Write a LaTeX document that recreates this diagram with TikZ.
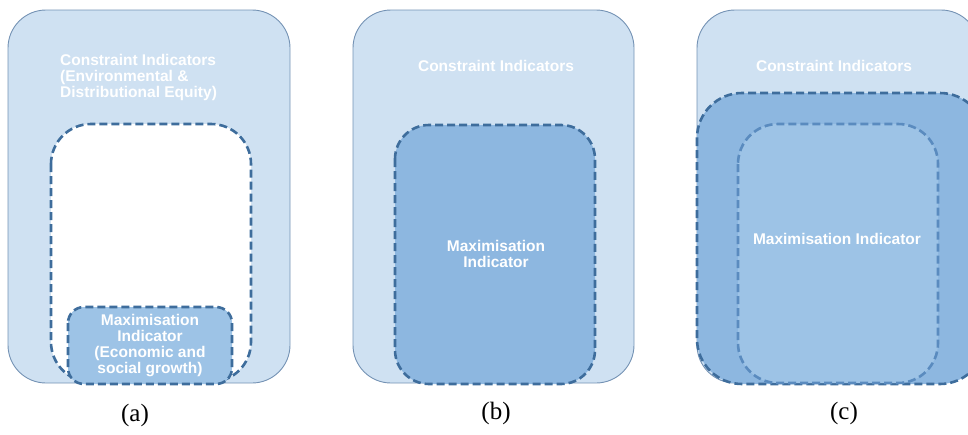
\documentclass[tikz,border=0pt]{standalone}
\usepackage{fontspec}
\setmainfont{Liberation Serif}
\newfontfamily\labfont{Liberation Sans}
\definecolor{outerfill}{HTML}{CFE1F2}
\definecolor{outerline}{HTML}{7492B4}
\definecolor{maxfill}{HTML}{8DB7E0}
\definecolor{lightmax}{HTML}{9DC3E6}
\definecolor{dashdark}{HTML}{3E6D9C}
\definecolor{dashlight}{HTML}{5A8BBF}
\tikzset{
  outerbox/.style={draw=outerline, line width=0.9pt, fill=outerfill, rounded corners=38pt},
  dashbox/.style={draw=dashdark, line width=2.6pt, dash pattern=on 8pt off 4pt, rounded corners=#1},
  wtext/.style={text=white, font=\labfont\bfseries\fontsize{15.5}{16}\selectfont, inner sep=0pt},
  caption/.style={font=\fontsize{25}{28}\selectfont, inner sep=0pt}
}
\begin{document}
\begin{tikzpicture}[x=1pt,y=-1pt]
\useasboundingbox (0,0) rectangle (968,434);
\clip (0,0) rectangle (968,434);
% ---------- (a)
\path[outerbox] (8,10) rectangle (290,383);
\path[dashbox=40pt, fill=white] (51,124) rectangle (251,382);
\path[dashbox=16pt, fill=lightmax] (68,307) rectangle (232,384);
\node[wtext, align=left, anchor=north west] (ca) at (60,54) {Constraint Indicators\\(Environmental \&\\Distributional Equity)};
\node[wtext, align=center] (ma) at (150,346) {Maximisation\\Indicator\\(Economic and\\social growth)};
\node[caption] (la) at (135,415) {(a)};
% ---------- (b)
\path[outerbox] (353,10) rectangle (634,383);
\path[dashbox=34pt, fill=maxfill] (395,125) rectangle (595,384);
\node[wtext] (cb) at (496,66) {Constraint Indicators};
\node[wtext, align=center] (mb) at (496,254) {Maximisation\\Indicator};
\node[caption] (lb) at (496,413) {(b)};
% ---------- (c)
\path[outerbox] (697,10) rectangle (979,383);
\node[wtext] (cc) at (834,66) {Constraint Indicators};
\path[dashbox=45pt, fill=maxfill] (697,93) rectangle (985,384);
\path[dashbox=40pt, draw=dashlight, fill=lightmax] (738,124) rectangle (938,383);
\node[wtext] (mc) at (837,239) {Maximisation Indicator};
\node[caption] (lc) at (844,413) {(c)};
\end{tikzpicture}
\end{document}
